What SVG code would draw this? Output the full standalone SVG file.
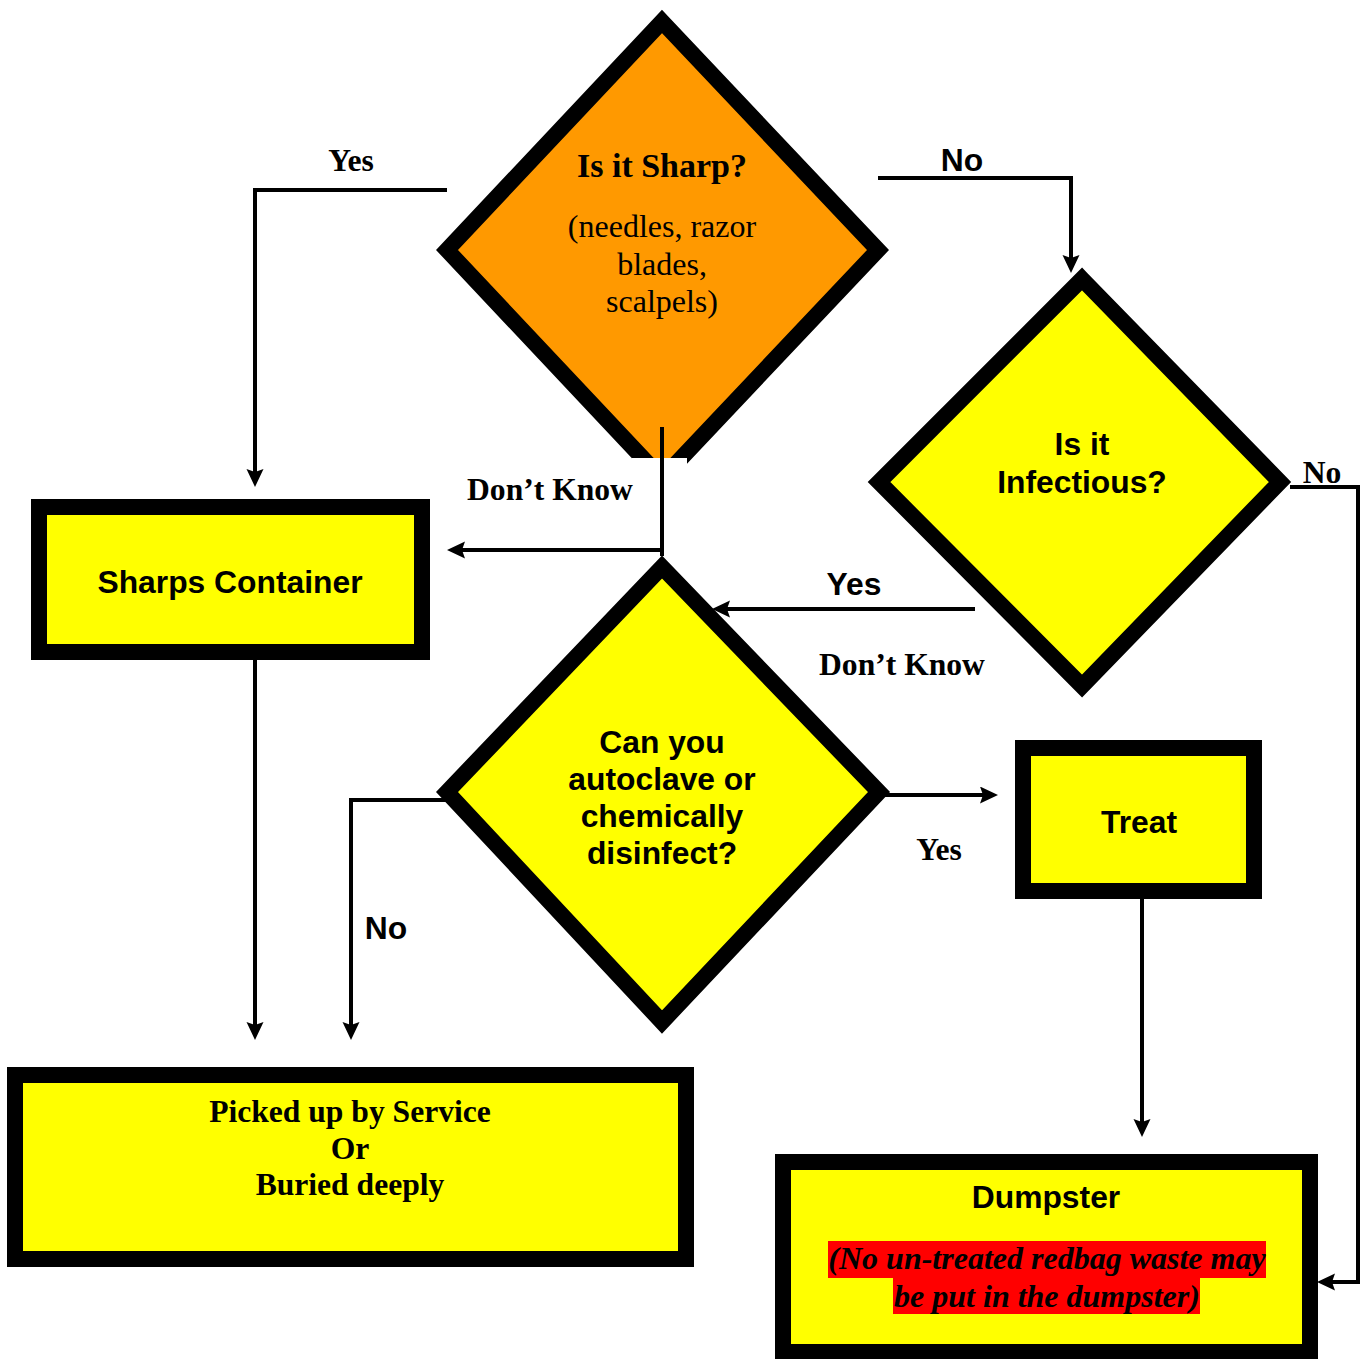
<svg xmlns="http://www.w3.org/2000/svg" width="1362" height="1359" viewBox="0 0 1362 1359">
<style>
.shape{stroke:#000;stroke-width:16;stroke-linejoin:miter;stroke-miterlimit:10}
.y{fill:#FFFF00}
.o{fill:#FF9900}
.conn{fill:none;stroke:#000;stroke-width:4}
.sans{font-family:"Liberation Sans",Arial,sans-serif;font-weight:bold;font-size:31.8px;text-anchor:middle;fill:#000}
.serif{font-family:"Liberation Serif","Times New Roman",serif;font-weight:bold;font-size:31.6px;text-anchor:middle;fill:#000}
.reg{font-weight:normal;font-size:32px}
.it{font-style:italic;font-size:32px}
</style>
<defs>
<marker id="arr" markerUnits="userSpaceOnUse" markerWidth="20" markerHeight="20" refX="13" refY="8.5" orient="auto">
<path d="M0,0 L18,8.5 L0,17 L3,8.5 z" fill="#000"/>
</marker>
</defs>
<rect width="1362" height="1359" fill="#fff"/>

<g id="sharp">
<polygon class="shape o" points="662,21.5 878,250 662,478.5 447,250"/>
<rect x="632" y="458" width="55" height="90" fill="#fff"/>
<text class="serif" x="662" y="177" style="font-size:34px">Is it Sharp?</text>
<text class="serif reg" x="662" y="237">(needles, razor</text>
<text class="serif reg" x="662" y="275">blades,</text>
<text class="serif reg" x="662" y="312">scalpels)</text>
</g>

<g id="infectious">
<polygon class="shape y" points="1082,279 1280,482 1082,686 879,482"/>
<text class="sans" x="1082" y="455">Is it</text>
<text class="sans" x="1082" y="493">Infectious?</text>
</g>

<g id="sharps-container">
<rect class="shape y" x="39" y="507" width="383" height="145"/>
<text class="sans" x="230" y="593">Sharps Container</text>
</g>

<g id="autoclave">
<polygon class="shape y" points="662,567 879,792 662,1022 447,792"/>
<text class="sans" x="662" y="753">Can you</text>
<text class="sans" x="662" y="790">autoclave or</text>
<text class="sans" x="662" y="827">chemically</text>
<text class="sans" x="662" y="864">disinfect?</text>
</g>

<g id="treat">
<rect class="shape y" x="1023" y="748" width="231" height="143"/>
<text class="sans" x="1139" y="833">Treat</text>
</g>

<g id="picked-up">
<rect class="shape y" x="15" y="1075" width="671" height="184"/>
<text class="serif" x="350" y="1122">Picked up by Service</text>
<text class="serif" x="350" y="1159">Or</text>
<text class="serif" x="350" y="1195">Buried deeply</text>
</g>

<g id="dumpster">
<rect class="shape y" x="783" y="1162" width="527" height="190"/>
<text class="sans" x="1046" y="1208">Dumpster</text>
<rect x="828" y="1241" width="438" height="37" fill="#FF0000"/>
<rect x="893" y="1278" width="307" height="36" fill="#FF0000"/>
<text class="serif it" x="1047" y="1269">(No un-treated redbag waste may</text>
<text class="serif it" x="1047" y="1307">be put in the dumpster)</text>
</g>

<g id="connectors">
<path class="conn" d="M447,190 H255 V482" marker-end="url(#arr)"/>
<path class="conn" d="M878,178 H1071 V268" marker-end="url(#arr)"/>
<path class="conn" d="M662,427 V556"/>
<path class="conn" d="M662,550 H452" marker-end="url(#arr)"/>
<path class="conn" d="M975,609 H717" marker-end="url(#arr)"/>
<path class="conn" d="M1290,487 H1358 V1282 H1322" marker-end="url(#arr)"/>
<path class="conn" d="M447,800 H351 V1035" marker-end="url(#arr)"/>
<path class="conn" d="M255,660 V1035" marker-end="url(#arr)"/>
<path class="conn" d="M879,795 H993" marker-end="url(#arr)"/>
<path class="conn" d="M1142,899 V1132" marker-end="url(#arr)"/>
<text class="serif" x="351" y="171">Yes</text>
<text class="sans" x="962" y="171">No</text>
<text class="serif" x="550" y="500">Don’t Know</text>
<text class="sans" x="854" y="595">Yes</text>
<text class="serif" x="902" y="675">Don’t Know</text>
<text class="serif" x="1322" y="483">No</text>
<text class="sans" x="386" y="939">No</text>
<text class="serif" x="939" y="860">Yes</text>
</g>
</svg>
